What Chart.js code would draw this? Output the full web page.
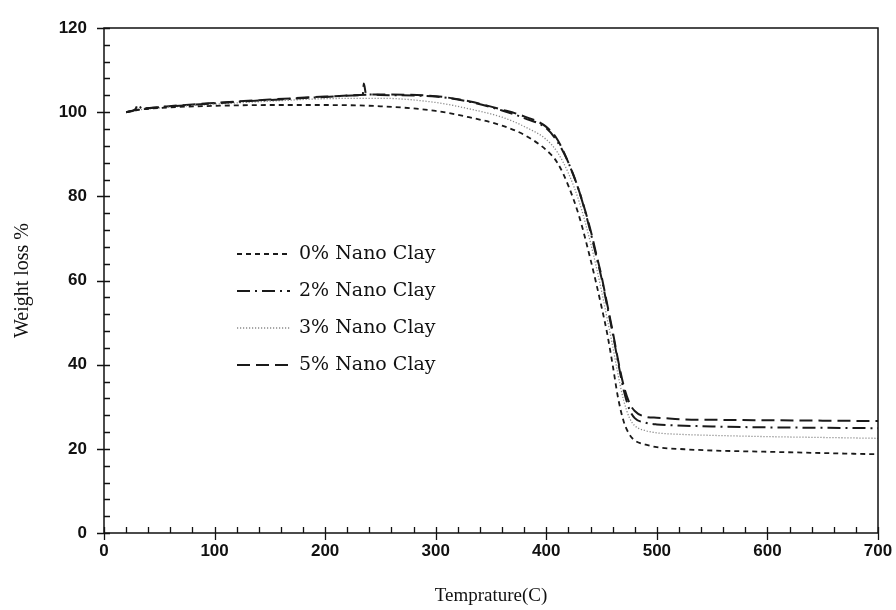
<!DOCTYPE html>
<html>
<head>
<meta charset="utf-8">
<script src="https://cdn.jsdelivr.net/npm/chart.js@4"></script>
<style>
  html, body { margin: 0; padding: 0; background: #fff; }
  #wrap { width: 896px; height: 610px; }
</style>
</head>
<body>
<div id="wrap"><canvas id="tga" width="896" height="610"></canvas></div>
<script>
// temperatures (C) shared by the 0%, 3% and 5% curves
const temps = [20, 30, 50, 100, 150, 200, 250, 300, 330, 360, 380, 400, 410, 420, 430, 440, 445, 450, 455, 460, 465, 470, 475, 480, 490, 500, 525, 550, 600, 650, 700];

// weight (%) for each loading
const clay0 = [100, 100.5, 101, 101.5, 101.7, 101.7, 101.4, 100.3, 98.8, 96.8, 94.6, 91, 88, 82.5, 75, 65, 59.5, 53.7, 47.5, 40, 32, 26.5, 23.5, 22, 21, 20.4, 19.9, 19.6, 19.3, 19, 18.7];
const clay3 = [100, 100.5, 101, 101.9, 102.6, 103.2, 103.3, 102.3, 100.8, 98.8, 96.6, 93.5, 90.5, 85.5, 78.5, 69, 63.5, 57.5, 51, 44.5, 37.5, 31.5, 27.5, 25.5, 24.3, 23.8, 23.4, 23.2, 22.9, 22.7, 22.5];
const clay5 = [100, 100.6, 101.2, 102.2, 103, 103.7, 104.2, 103.8, 102.6, 100.6, 99, 96.5, 93.5, 88, 81, 72, 66.5, 61, 54.5, 48, 41, 35, 31, 29, 27.6, 27.4, 27, 26.9, 26.8, 26.7, 26.6];

// the 2% curve has its own temperatures (small hooks near 30 and 235 C)
const temps2 = [20, 28, 31, 34, 50, 100, 150, 200, 230, 234, 235, 237, 240, 250, 300, 330, 360, 380, 400, 410, 420, 430, 440, 445, 450, 455, 460, 465, 470, 475, 480, 490, 500, 525, 550, 600, 650, 700];
const clay2 = [100, 100.6, 101.8, 100.9, 101.2, 102.1, 102.9, 103.6, 104, 104.1, 106.8, 104.3, 104.2, 104.1, 103.7, 102.5, 100.4, 98.6, 96.2, 93, 88, 81, 71.5, 66, 60.5, 54, 47.5, 40.5, 34, 29.5, 27.3, 26.2, 25.8, 25.5, 25.3, 25.1, 25, 24.9];

const seriesNames = ["0% Nano Clay", "2% Nano Clay", "3% Nano Clay", "5% Nano Clay"];
const xTicks = [0, 100, 200, 300, 400, 500, 600, 700];
const yTicks = [0, 20, 40, 60, 80, 100, 120];

const styles = [
    { color: "#1a1a1a", width: 1.8, dash: [5, 4] },
    { color: "#1a1a1a", width: 2, dash: [13, 5, 2, 5] },
    { color: "#8a8a8a", width: 1.3, dash: [1.2, 1.8] },
    { color: "#1a1a1a", width: 2, dash: [13, 6] }
];

function pts(xs, ys) {
    return xs.map((x, i) => ({ x: x, y: ys[i] }));
}

const allData = [pts(temps, clay0), pts(temps2, clay2), pts(temps, clay3), pts(temps, clay5)];

// Draw axis box and inward ticks the way the original plot shows them
const axisPlugin = {
    id: "axisBox",
    afterDraw(chart) {
        const ctx = chart.ctx;
        const a = chart.chartArea;
        const xs = chart.scales.x;
        const ys = chart.scales.y;
        ctx.save();
        ctx.strokeStyle = "#111";
        ctx.lineWidth = 1.5;
        ctx.setLineDash([]);
        ctx.beginPath();
        ctx.rect(a.left, a.top, a.right - a.left, a.bottom - a.top);
        ctx.stroke();

        ctx.lineWidth = 1.3;
        ctx.beginPath();
        // x ticks every 20, major every 100
        for (let t = 0; t <= 700; t += 20) {
            const px = Math.round(xs.getPixelForValue(t)) + 0.5;
            const major = t % 100 === 0;
            ctx.moveTo(px, a.bottom - 6);
            ctx.lineTo(px, a.bottom + (major ? 7 : 0));
        }
        // y ticks every 4, major every 20
        for (let w = 0; w <= 120; w += 4) {
            const py = Math.round(ys.getPixelForValue(w)) + 0.5;
            const major = w % 20 === 0;
            ctx.moveTo(a.left - (major ? 7 : 0), py);
            ctx.lineTo(a.left + 6, py);
        }
        ctx.stroke();
        ctx.restore();
    }
};

// Legend drawn inside the plot area
const legendPlugin = {
    id: "innerLegend",
    afterDatasetsDraw(chart) {
        const ctx = chart.ctx;
        const x0 = 237, x1 = 290, textX = 299;
        const rows = [254, 291, 328, 365];
        ctx.save();
        ctx.font = "19px 'DejaVu Serif', serif";
        ctx.textBaseline = "middle";
        ctx.fillStyle = "#111";
        seriesNames.forEach((name, i) => {
            const s = styles[i];
            ctx.strokeStyle = s.color;
            ctx.lineWidth = s.width;
            ctx.setLineDash(s.dash);
            ctx.beginPath();
            ctx.moveTo(x0, rows[i]);
            ctx.lineTo(x1, rows[i]);
            ctx.stroke();
            ctx.setLineDash([]);
            ctx.fillText(name, textX, rows[i]);
        });
        ctx.restore();
    }
};

const whiteBg = {
    id: "whiteBg",
    beforeDraw(chart) {
        const ctx = chart.ctx;
        ctx.save();
        ctx.fillStyle = "#fff";
        ctx.fillRect(0, 0, chart.width, chart.height);
        ctx.restore();
    }
};

const tickFont = { family: "'Liberation Sans Narrow', 'Liberation Sans', sans-serif", size: 17, weight: "bold" };

new Chart(document.getElementById("tga"), {
    type: "line",
    data: {
        datasets: seriesNames.map((name, i) => ({
            label: name,
            data: allData[i],
            borderColor: styles[i].color,
            borderWidth: styles[i].width,
            borderDash: styles[i].dash,
            pointRadius: 0,
            fill: false,
            cubicInterpolationMode: "monotone"
        }))
    },
    options: {
        responsive: false,
        animation: false,
        layout: { padding: { top: 28, right: 18, left: 0, bottom: 0 } },
        plugins: {
            legend: { display: false },
            tooltip: { enabled: false }
        },
        scales: {
            x: {
                type: "linear",
                min: 0,
                max: 700,
                afterBuildTicks: s => { s.ticks = xTicks.map(v => ({ value: v })); },
                afterFit: s => { s.height = 77; s.paddingLeft = 0; s.paddingRight = 0; },
                grid: { display: false, drawTicks: false },
                border: { display: false },
                ticks: { color: "#111", font: tickFont, padding: 8, maxRotation: 0 },
                title: {
                    display: true,
                    text: "Temprature(C)",
                    color: "#111",
                    font: { family: "'Liberation Serif', serif", size: 19 },
                    padding: { top: 0, bottom: 3 }
                }
            },
            y: {
                min: 0,
                max: 120,
                afterBuildTicks: s => { s.ticks = yTicks.map(v => ({ value: v })); },
                afterFit: s => { s.width = 104; s.paddingTop = 0; s.paddingBottom = 0; },
                grid: { display: false, drawTicks: false },
                border: { display: false },
                ticks: { color: "#111", font: tickFont, padding: 17 },
                title: {
                    display: true,
                    text: "Weight loss %",
                    color: "#111",
                    font: { family: "'Liberation Serif', serif", size: 20 },
                    padding: { top: 11, bottom: 0 }
                }
            }
        }
    },
    plugins: [whiteBg, legendPlugin, axisPlugin]
});
</script>
</body>
</html>
